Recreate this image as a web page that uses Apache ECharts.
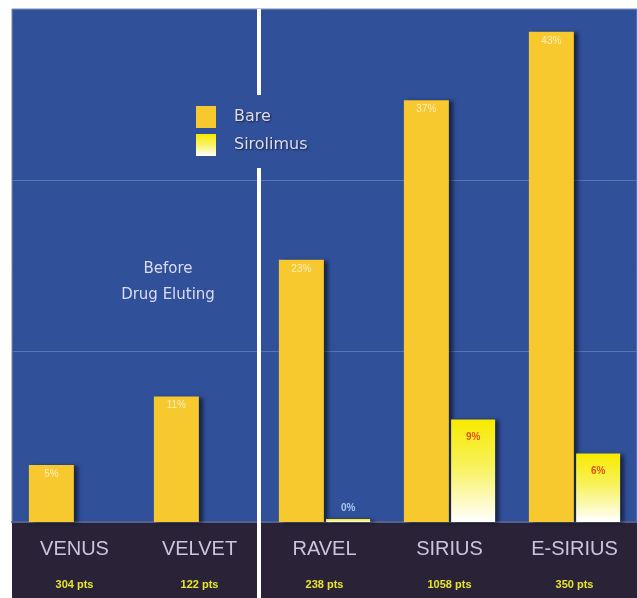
<!DOCTYPE html>
<html>
<head>
<meta charset="utf-8">
<script src="https://cdn.jsdelivr.net/npm/echarts@6/dist/echarts.min.js"></script>
<style>html,body{margin:0;padding:0;background:#fff}#c{width:637px;height:598px}</style>
</head>
<body>
<div id="c"></div>
<script>
const categories = ['VENUS', 'VELVET', 'RAVEL', 'SIRIUS', 'E-SIRIUS'];
const patients = ['304 pts', '122 pts', '238 pts', '1058 pts', '350 pts'];
const bareValues = [5, 11, 23, 37, 43];
const sirolimusValues = [null, null, 0, 9, 6];
const yTicks = [0, 15, 30, 45];

const chart = echarts.init(document.getElementById('c'));
const barShadow = {shadowColor: 'rgba(0,0,0,0.55)', shadowOffsetX: 4, shadowOffsetY: 1, shadowBlur: 4};

chart.setOption({
  backgroundColor: '#ffffff',
  animation: false,
  grid: {left: 12, right: 0, top: 9, bottom: 76, show: true, backgroundColor: '#30509a', borderColor: '#7f86b6', borderWidth: 1},
  legend: {
    orient: 'vertical', left: 191, top: 101, itemWidth: 20, itemHeight: 22, itemGap: 6, icon: 'rect',
    textStyle: {color: '#dcdcee', fontSize: 16, fontFamily: 'DejaVu Sans', padding: [0, 0, 0, 13], textShadowColor: 'rgba(0,0,0,0.6)', textShadowBlur: 2, textShadowOffsetX: 1, textShadowOffsetY: 1},
    data: ['Bare', 'Sirolimus']
  },
  xAxis: {
    type: 'category', data: categories,
    axisLine: {show: true, lineStyle: {color: '#55608f', width: 2}},
    axisTick: {show: false},
    axisLabel: {
      margin: 6,
      formatter: (v, i) => '{n|' + v + '}\n{p|' + patients[i] + '}',
      rich: {
        n: {color: '#cbc4de', fontSize: 20, fontFamily: 'Liberation Sans', lineHeight: 42},
        p: {color: '#e6e62c', fontSize: 11, fontWeight: 'bold', fontFamily: 'Liberation Sans', lineHeight: 30}
      }
    }
  },
  yAxis: {
    type: 'value', min: yTicks[0], max: yTicks[yTicks.length - 1], interval: 15,
    axisLabel: {show: false}, axisLine: {show: false}, axisTick: {show: false},
    splitLine: {lineStyle: {color: '#5a74b0', width: 1}}
  },
  graphic: [
    {type: 'rect', z: -1, shape: {x: 12, y: 522, width: 625, height: 76}, style: {fill: '#2a2337'}},
    {type: 'rect', z: 100, shape: {x: 257, y: 9, width: 4, height: 86}, style: {fill: '#ffffff'}},
    {type: 'rect', z: 100, shape: {x: 257, y: 168, width: 4, height: 430}, style: {fill: '#ffffff'}},
    {type: 'text', z: 100, x: 168, y: 262, style: {text: 'Before', textAlign: 'center', fill: '#dcdcee', fontSize: 15, fontFamily: 'DejaVu Sans', shadowColor: 'rgba(0,0,0,0.6)', shadowBlur: 2, shadowOffsetX: 1, shadowOffsetY: 1}},
    {type: 'text', z: 100, x: 168, y: 288, style: {text: 'Drug Eluting', textAlign: 'center', fill: '#dcdcee', fontSize: 15, fontFamily: 'DejaVu Sans', shadowColor: 'rgba(0,0,0,0.6)', shadowBlur: 2, shadowOffsetX: 1, shadowOffsetY: 1}}
  ],
  series: [
    {
      name: 'Bare', type: 'bar', data: bareValues, barWidth: 45, barGap: '5%',
      itemStyle: Object.assign({color: '#f7c92e'}, barShadow),
      label: {show: true, position: 'insideTop', distance: 4, formatter: '{c}%', color: '#fbeec4', fontSize: 10, fontFamily: 'Liberation Sans'}
    },
    {
      name: 'Sirolimus', type: 'bar', barWidth: 44, barMinHeight: 3,
      data: sirolimusValues.map(v => v === 0
        ? {value: v, label: {position: 'top', color: '#a9c6f2', distance: 6}}
        : v),
      itemStyle: Object.assign({color: new echarts.graphic.LinearGradient(0, 0, 0, 1, [
        {offset: 0, color: '#f7ea00'}, {offset: 0.45, color: '#f8f25a'}, {offset: 1, color: '#ffffff'}
      ])}, barShadow),
      label: {show: true, position: 'insideTop', distance: 13, formatter: '{c}%', color: '#e0521a', fontSize: 10, fontWeight: 'bold', fontFamily: 'Liberation Sans'}
    }
  ]
});
</script>
</body>
</html>
